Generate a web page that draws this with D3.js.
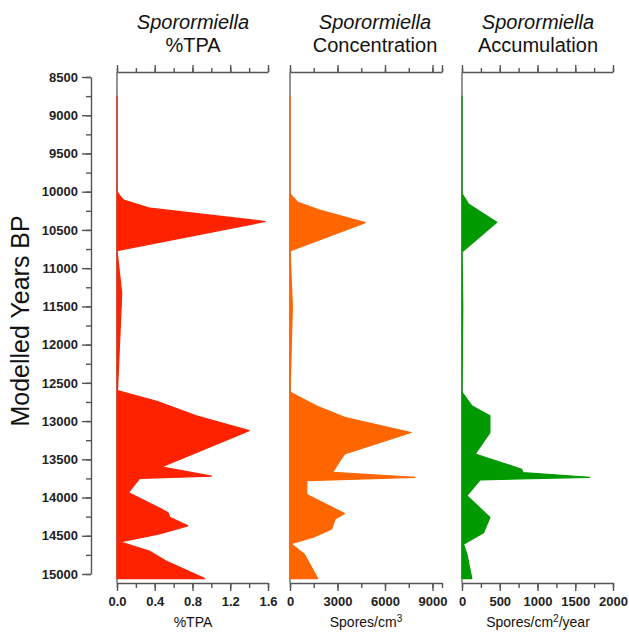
<!DOCTYPE html>
<html>
<head>
<meta charset="utf-8">
<script src="https://cdn.jsdelivr.net/npm/d3@7"></script>
<style>
  body { margin: 0; background: #fff; }
  svg { display: block; font-family: "Liberation Sans", Arial, sans-serif; }
  .axis path, .axis line { stroke: #555; stroke-width: 1.4; }
  .axis text { fill: #222; font-weight: bold; font-size: 13px; }
</style>
</head>
<body>
<svg width="629" height="632"></svg>
<script>
// %TPA
const tpaYears  = [8750, 10000, 10050, 10110, 10216, 10390, 10770, 11330, 12600, 12753, 12930, 13125, 13600, 13720, 13750, 13935, 14150, 14200, 14260, 14370, 14475, 14580, 14705, 14830, 15060];
const tpaValues = [0, 0, 0.03, 0.07, 0.35, 1.57, 0, 0.05, 0.005, 0.45, 0.84, 1.40, 0.47, 1.0, 0.24, 0.12, 0.47, 0.54, 0.56, 0.75, 0.45, 0.03, 0.35, 0.52, 0.93];

// concentration, spores/cm3
const concYears  = [8750, 10025, 10135, 10240, 10405, 10775, 11500, 12620, 12800, 12950, 13015, 13150, 13430, 13520, 13670, 13735, 13780, 13960, 14210, 14280, 14410, 14520, 14605, 14740, 15060];
const concValues = [0, 0, 460, 1870, 4750, 0, 150, 0, 1650, 3450, 4800, 7650, 3450, 3150, 2700, 7900, 1060, 1060, 3450, 2850, 2630, 1480, 60, 900, 1750];

// accumulation, spores/cm2/year
const accYears  = [8750, 10025, 10160, 10400, 10790, 11500, 12620, 12800, 12930, 13150, 13430, 13630, 13675, 13735, 13770, 13975, 14260, 14460, 14610, 14740, 15060];
const accValues = [0, 0, 85, 460, 0, 10, 0, 130, 370, 370, 175, 790, 810, 1690, 240, 65, 370, 285, 20, 65, 130];

const yearTicks = d3.range(8500, 15001, 500);
const yearMinor = d3.range(8500, 15001, 250);

const panels = [
  { title: "%TPA", unit: "%TPA", sup: "", tail: "", color: "#ff2200", x0: 117, w: 151, max: 1.6, tx: 193,
    years: tpaYears, values: tpaValues,
    minor: d3.range(0, 1.61, 0.2), major: [0, 0.4, 0.8, 1.2, 1.6], fmt: d3.format(".1f") },
  { title: "Concentration", unit: "Spores/cm", sup: "3", tail: "", color: "#ff6600", x0: 290, w: 152, max: 9600, tx: 375,
    years: concYears, values: concValues,
    minor: [0, 1500, 3000, 4500, 6000, 7500, 9000, 9600], major: [0, 3000, 6000, 9000], fmt: d3.format("d") },
  { title: "Accumulation", unit: "Spores/cm", sup: "2", tail: "/year", color: "#009900", x0: 462, w: 151, max: 2000, tx: 538,
    years: accYears, values: accValues,
    minor: d3.range(0, 2001, 250), major: [0, 500, 1000, 1500, 2000], fmt: d3.format("d") }
];

const topY = 72;
const bottomY = 583;

const svg = d3.select("svg");
const y = d3.scaleLinear().domain([8500, 15000]).range([77, 574]);

// y axis
svg.append("g").attr("class", "axis")
  .attr("transform", "translate(91,0)")
  .call(d3.axisLeft(y).tickValues(yearMinor).tickSize(5).tickSizeOuter(0).tickFormat(""));
svg.append("g").attr("class", "axis")
  .attr("transform", "translate(91,0)")
  .call(d3.axisLeft(y).tickValues(yearTicks).tickSize(9).tickSizeOuter(0).tickPadding(4).tickFormat(d3.format("d")))
  .call(g => g.select(".domain").remove());

svg.append("text")
  .attr("transform", `translate(29,${y(11690)}) rotate(-90)`)
  .attr("text-anchor", "middle")
  .style("font-size", "25px")
  .attr("fill", "#111")
  .text("Modelled Years BP");

panels.forEach(p => {
  const x = d3.scaleLinear().domain([0, p.max]).range([p.x0, p.x0 + p.w]);
  const cx = p.x0 + 76;

  // titles
  svg.append("text").attr("x", p.tx).attr("y", 29).attr("text-anchor", "middle")
    .style("font-size", "20px").style("font-style", "italic").attr("fill", "#111")
    .text("Sporormiella");
  svg.append("text").attr("x", p.tx).attr("y", 52).attr("text-anchor", "middle")
    .style("font-size", "20px").attr("fill", "#111")
    .text(p.title);

  // left line of panel
  svg.append("line")
    .attr("x1", x(0)).attr("x2", x(0))
    .attr("y1", topY).attr("y2", bottomY)
    .attr("stroke", "#666").attr("stroke-width", 1.4);

  // area
  const pts = p.years.map((yr, i) => [yr, p.values[i]]);
  const area = d3.area()
    .y(d => y(d[0]))
    .x0(x(0))
    .x1(d => x(d[1]));
  svg.append("path")
    .datum(pts)
    .attr("d", area)
    .attr("fill", p.color)
    .attr("stroke", p.color)
    .attr("stroke-width", 1.2)
    .attr("stroke-linejoin", "round");

  // top axis
  svg.append("g").attr("class", "axis")
    .attr("transform", `translate(0,${topY})`)
    .call(d3.axisTop(x).tickValues(p.minor).tickSize(4).tickSizeOuter(0).tickFormat(""));
  svg.append("g").attr("class", "axis")
    .attr("transform", `translate(0,${topY})`)
    .call(d3.axisTop(x).tickValues(p.major.concat(p.max === 9600 ? [9600] : [])).tickSize(7).tickSizeOuter(0).tickFormat(""))
    .call(g => g.select(".domain").remove());

  // bottom axis
  svg.append("g").attr("class", "axis")
    .attr("transform", `translate(0,${bottomY})`)
    .call(d3.axisBottom(x).tickValues(p.minor).tickSize(5).tickSizeOuter(0).tickFormat(""));
  svg.append("g").attr("class", "axis")
    .attr("transform", `translate(0,${bottomY})`)
    .call(d3.axisBottom(x).tickValues(p.major).tickSize(8).tickSizeOuter(0).tickPadding(6).tickFormat(p.fmt))
    .call(g => g.select(".domain").remove());

  // unit label
  const t = svg.append("text").attr("x", cx).attr("y", 627).attr("text-anchor", "middle")
    .style("font-size", "14px").attr("fill", "#111");
  t.append("tspan").text(p.unit);
  if (p.sup) t.append("tspan").attr("dy", -5).style("font-size", "10px").text(p.sup);
  if (p.tail) t.append("tspan").attr("dy", 5).text(p.tail);
});
</script>
</body>
</html>
